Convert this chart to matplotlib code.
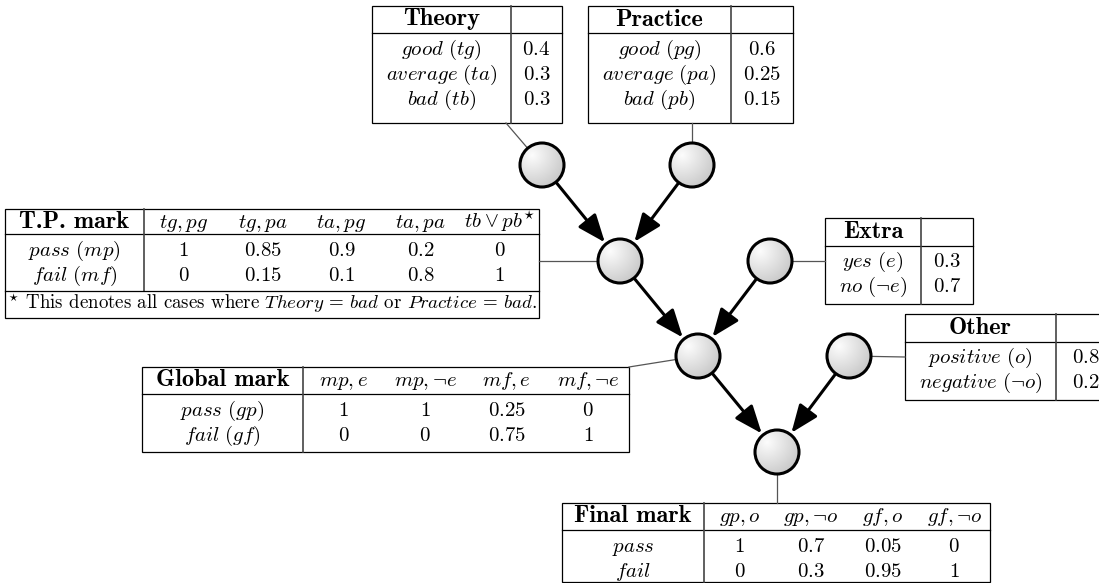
import numpy as np
import matplotlib.pyplot as plt
from matplotlib.patches import Circle, FancyArrowPatch, Rectangle, ArrowStyle

plt.rcParams['font.family'] = 'serif'
plt.rcParams['font.serif'] = ['cmr10']
plt.rcParams['mathtext.fontset'] = 'cm'
plt.rcParams['axes.unicode_minus'] = False

# --- data: conditional probability tables ---
theory_states = [r'$\mathit{good}\ (tg)$', r'$\mathit{average}\ (ta)$', r'$\mathit{bad}\ (tb)$']
theory_probs = [0.4, 0.3, 0.3]

practice_states = [r'$\mathit{good}\ (pg)$', r'$\mathit{average}\ (pa)$', r'$\mathit{bad}\ (pb)$']
practice_probs = [0.6, 0.25, 0.15]

tp_cols = [r'$tg, pg$', r'$tg, pa$', r'$ta, pg$', r'$ta, pa$', r'$tb \vee pb^{\star}$']
tp_rows = [r'$\mathit{pass}\ (mp)$', r'$\mathit{fail}\ (mf)$']
tp_pass = [1, 0.85, 0.9, 0.2, 0]
tp_fail = [0, 0.15, 0.1, 0.8, 1]
tp_note = (r'$^{\star}$ This denotes all cases where $\mathit{Theory}$ = $\mathit{bad}$'
           r' or $\mathit{Practice}$ = $\mathit{bad}$.')

extra_states = [r'$\mathit{yes}\ (e)$', r'$\mathit{no}\ (\neg e)$']
extra_probs = [0.3, 0.7]

other_states = [r'$\mathit{positive}\ (o)$', r'$\mathit{negative}\ (\neg o)$']
other_probs = [0.8, 0.2]

global_cols = [r'$mp, e$', r'$mp, \neg e$', r'$mf, e$', r'$mf, \neg e$']
global_rows = [r'$\mathit{pass}\ (gp)$', r'$\mathit{fail}\ (gf)$']
global_pass = [1, 1, 0.25, 0]
global_fail = [0, 0, 0.75, 1]

final_cols = [r'$gp, o$', r'$gp, \neg o$', r'$gf, o$', r'$gf, \neg o$']
final_rows = [r'$\mathit{pass}$', r'$\mathit{fail}$']
final_pass = [1, 0.7, 0.05, 0]
final_fail = [0, 0.3, 0.95, 1]

# node centres (pixels), radius
nodes = {'theory': (542, 165), 'practice': (692, 165), 'tp': (620, 261),
         'extra': (770, 261), 'global': (698, 356), 'other': (849, 356),
         'final': (777, 452)}
edges = [('theory', 'tp'), ('practice', 'tp'), ('tp', 'global'),
         ('extra', 'global'), ('global', 'final'), ('other', 'final')]
R = 22
FS = 15
HFS = 17.5

fig = plt.figure(figsize=(10.99, 5.83), dpi=100)
ax = fig.add_axes([0, 0, 1, 1])
ax.axis('off')


def table(x0, x1, xdiv, y0, yh, y1, title, cols, rows, vals, ys, ydiv=None):
    ax.add_patch(Rectangle((x0, y0), x1 - x0, y1 - y0, fill=False, lw=0.9, ec='black'))
    ax.plot([x0, x1], [yh, yh], color='black', lw=0.9)
    ax.plot([xdiv, xdiv], [y0, ydiv or y1], color='#444444', lw=1.2)
    yc = (y0 + yh) / 2 + 6
    ax.text((x0 + xdiv) / 2, yc, title, ha='center', va='baseline', fontsize=HFS,
            family='cmb10')
    cw = (x1 - xdiv) / len(vals[0])
    for j, c in enumerate(cols):
        ax.text(xdiv + cw * (j + 0.5), yc, c, ha='center', va='baseline', fontsize=FS)
    for i, (r, row) in enumerate(zip(rows, vals)):
        ax.text((x0 + xdiv) / 2, ys[i] + 6, r, ha='center', va='baseline', fontsize=FS)
        for j, v in enumerate(row):
            ax.text(xdiv + cw * (j + 0.5), ys[i] + 6, f'${v:g}$', ha='center',
                    va='baseline', fontsize=FS)


def link(p, node):
    # thin grey line from table to node rim
    cx, cy = nodes[node]
    d = np.array([cx - p[0], cy - p[1]], float)
    d /= np.hypot(*d)
    ax.plot([p[0], cx - d[0] * R], [p[1], cy - d[1] * R], color='#555555', lw=0.9)


# tables
table(372, 562, 511, 6, 33, 123, 'Theory', [''],
      theory_states, [[v] for v in theory_probs], [49, 74, 99])
table(588, 793, 731, 6, 33, 123, 'Practice', [''],
      practice_states, [[v] for v in practice_probs], [49, 74, 99])
table(5, 539, 144, 209, 234, 318, 'T.P. mark', tp_cols,
      tp_rows, [tp_pass, tp_fail], [250, 275], ydiv=291)
ax.plot([5, 539], [291, 291], color='black', lw=0.9)
ax.text(8, 309, tp_note, ha='left', va='baseline', fontsize=13.6)
table(825, 973, 921, 218, 246, 304, 'Extra', [''],
      extra_states, [[v] for v in extra_probs], [261, 286])
table(905, 1115, 1056, 314, 342, 400, 'Other', [''],
      other_states, [[v] for v in other_probs], [357, 382])
table(142, 629, 303, 367, 394, 452, 'Global mark', global_cols,
      global_rows, [global_pass, global_fail], [410, 435])
table(562, 990, 704, 503, 530, 582, 'Final mark', final_cols,
      final_rows, [final_pass, final_fail], [546, 571])

# table-to-node connectors
link((506, 123), 'theory')
link((692, 123), 'practice')
link((539, 261), 'tp')
link((825, 261), 'extra')
link((629, 367), 'global')
link((905, 357), 'other')
link((777, 503), 'final')

# arrows between nodes
for a, b in edges:
    p, q = np.array(nodes[a], float), np.array(nodes[b], float)
    d = (q - p) / np.hypot(*(q - p))
    s, e = p + d * (R + 1), q - d * (R + 2)
    ax.add_patch(FancyArrowPatch(tuple(s), tuple(e), shrinkA=0, shrinkB=0,
                                 arrowstyle=ArrowStyle('-|>', head_length=0.85, head_width=0.34),
                                 mutation_scale=20, lw=2.2, color='black', zorder=3))

# shaded nodes: light radial gradient, bright at upper left
g = np.linspace(-1, 1, 80)
xx, yy = np.meshgrid(g, g)
t = np.clip(np.hypot(xx + 0.45, yy + 0.45) / 1.9, 0, 1)
shade = np.dstack([0.99 - 0.24 * t] * 3)
for cx, cy in nodes.values():
    im = ax.imshow(shade, origin='upper', extent=(cx - R, cx + R, cy + R, cy - R),
                   zorder=4, interpolation='bilinear')
    im.set_clip_path(Circle((cx, cy), R, transform=ax.transData))
    ax.add_patch(Circle((cx, cy), R, fc='none', ec='black', lw=2.2, zorder=5))

ax.set_xlim(0, 1099)
ax.set_ylim(583, 0)
ax.set_aspect('auto')
fig.savefig('out.png', dpi=100)
